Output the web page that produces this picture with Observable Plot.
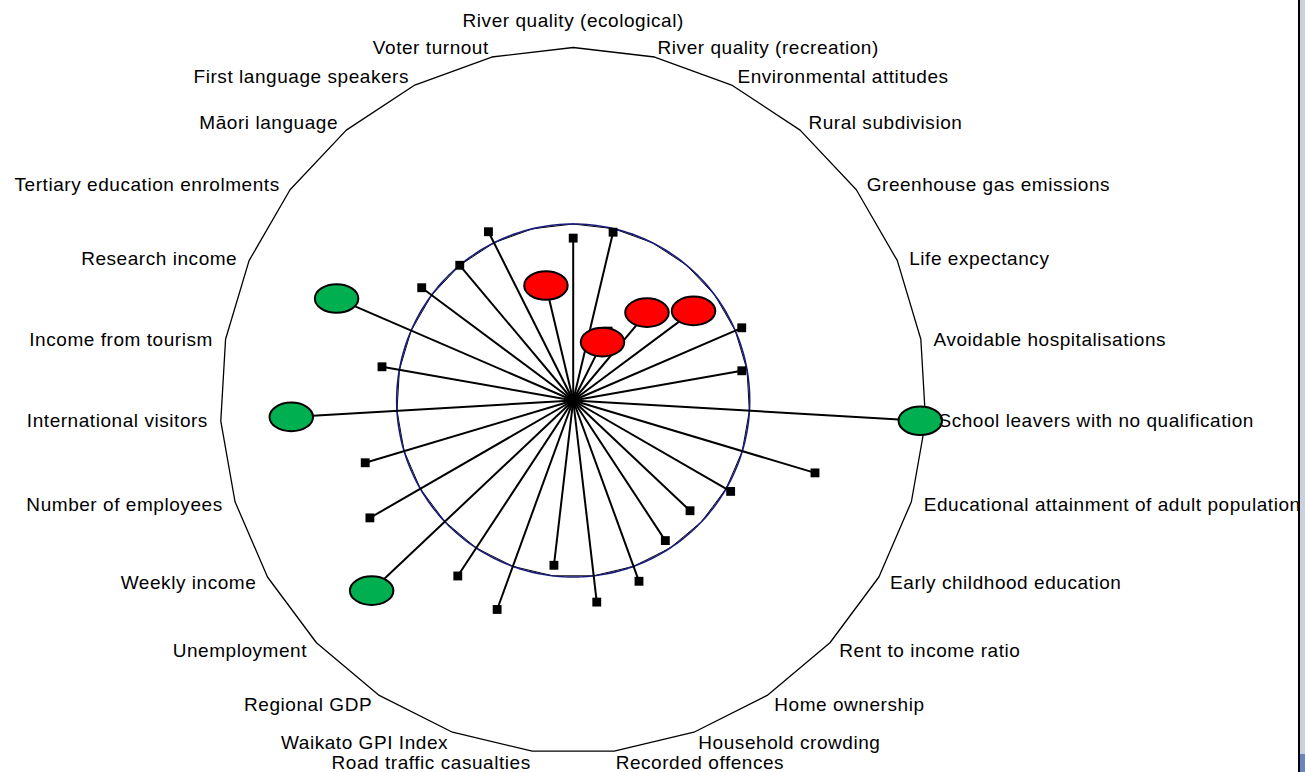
<!DOCTYPE html>
<html><head><meta charset="utf-8">
<script src="https://cdn.jsdelivr.net/npm/d3@7"></script>
<script src="https://cdn.jsdelivr.net/npm/@observablehq/plot@0.6"></script>
<style>
html,body{margin:0;padding:0;background:#fff;overflow:hidden;width:1305px;height:772px}
#chart{position:absolute;left:0;top:0}
#chart svg text{letter-spacing:0.55px}
.edge{position:absolute;top:0;height:772px}
</style></head><body>
<div id="chart"></div>
<div class="edge" style="left:1298px;width:2px;background:#000"></div>
<div class="edge" style="left:1300px;width:5px;background:#c9d1de"></div>
<div style="position:absolute;left:1300px;top:754px;width:5px;height:18px;background:#6d84be"></div>
<script>
// Indicators, clockwise from the top
const categories = [
  "River quality (ecological)", "River quality (recreation)", "Environmental attitudes",
  "Rural subdivision", "Greenhouse gas emissions", "Life expectancy",
  "Avoidable hospitalisations", "School leavers with no qualification",
  "Educational attainment of adult population", "Early childhood education",
  "Rent to income ratio", "Home ownership", "Household crowding", "Recorded offences",
  "Road traffic casualties", "Waikato GPI Index", "Regional GDP", "Unemployment",
  "Weekly income", "Number of employees", "International visitors", "Income from tourism",
  "Research income", "Tertiary education enrolments", "Māori language",
  "First language speakers", "Voter turnout"
];
// Index value (1 = inner circle baseline, 2 = outer ring)
const values = [
  0.92, 0.98, 0.44, 0.65, 0.85, 1.04, 0.97, 1.97, 1.43, 1.03,
  0.91, 0.95, 1.09, 1.15, 0.94, 1.26, 1.19, 1.57, 1.33, 1.23,
  1.60, 1.10, 1.46, 1.07, 1.00, 1.07, 0.67
];
// Highlight flags: "up" (green), "down" (red), or null
const flags = [
  null, null, "down", "down", "down", null, null, "up", null, null,
  null, null, null, null, null, null, null, "up", null, null,
  "up", null, "up", null, null, null, "down"
];
// Where each flag sits along its spoke
const flagValues = [
  null, null, 0.37, 0.65, 0.85, null, null, 1.97, null, null,
  null, null, null, null, null, null, null, 1.57, null, null,
  1.60, null, 1.46, null, null, null, 0.67
];
const gridLevels = [1, 2];
const labelRadius = 2.073;

const n = categories.length;
const ang = i => i * 2 * Math.PI / n;
const rows = categories.map((name, i) => ({
  i, name, v: values[i], flag: flags[i], fv: flagValues[i],
  a: ang(i),
  x: values[i] * Math.sin(ang(i)), y: values[i] * Math.cos(ang(i)),
  fx: flagValues[i] == null ? null : flagValues[i] * Math.sin(ang(i)),
  fy: flagValues[i] == null ? null : flagValues[i] * Math.cos(ang(i)),
  lx: labelRadius * Math.sin(ang(i)), ly: labelRadius * Math.cos(ang(i))
}));

const poly = lvl => d3.range(n + 1).map(k => ({x: lvl * Math.sin(ang(k % n)), y: lvl * Math.cos(ang(k % n))}));
const circ = d3.range(241).map(k => {const t = k / 240 * 2 * Math.PI; return {x: Math.sin(t), y: Math.cos(t)};});

const K = 0.5523;
const ellipseSymbol = {
  draw(ctx, size) {
    const r = Math.sqrt(size / Math.PI);
    const rx = r * 1.52, ry = r;
    ctx.moveTo(rx, 0);
    ctx.bezierCurveTo(rx, K * ry, K * rx, ry, 0, ry);
    ctx.bezierCurveTo(-K * rx, ry, -rx, K * ry, -rx, 0);
    ctx.bezierCurveTo(-rx, -K * ry, -K * rx, -ry, 0, -ry);
    ctx.bezierCurveTo(K * rx, -ry, rx, -K * ry, rx, 0);
    ctx.closePath();
  }
};

const upper = d => d.ly > 0;
const cx = 572.7, cy = 400, k = 176.5, W = 1305, H = 772;
const chart = Plot.plot({
  width: W, height: H, margin: 0,
  x: {domain: [-cx / k, (W - cx) / k], axis: null},
  y: {domain: [(cy - H) / k, cy / k], axis: null},
  style: {fontFamily: "'Liberation Sans', Arial, sans-serif", fontSize: "19px", background: "white"},
  marks: [
    Plot.line(poly(gridLevels[1]), {x: "x", y: "y", stroke: "black", strokeWidth: 1.3}),
    Plot.line(poly(gridLevels[0]), {x: "x", y: "y", stroke: "black", strokeWidth: 1}),
    Plot.line(circ, {x: "x", y: "y", stroke: "#1a1a7a", strokeWidth: 1.6}),
    Plot.link(rows, {x1: () => 0, y1: () => 0, x2: "x", y2: "y", stroke: "black", strokeWidth: 2}),
    Plot.dot(rows, {x: "x", y: "y", symbol: "square", r: 5, fill: "black"}),
    Plot.dot(rows.filter(d => d.flag === "up"), {x: "fx", y: "fy", symbol: ellipseSymbol, r: 14.3, fill: "#00b050", stroke: "black", strokeWidth: 2}),
    Plot.dot(rows.filter(d => d.flag === "down"), {x: "fx", y: "fy", symbol: ellipseSymbol, r: 14.3, fill: "#ff0000", stroke: "black", strokeWidth: 2}),
    Plot.text(rows.filter(d => d.i === 0), {x: "lx", y: "ly", text: "name", textAnchor: "middle", lineAnchor: "bottom", dy: -8, fill: "black"}),
    Plot.text(rows.filter(d => d.i >= 1 && d.i <= 13 && upper(d)), {x: "lx", y: "ly", text: "name", textAnchor: "start", lineAnchor: "middle", dy: 3, fill: "black"}),
    Plot.text(rows.filter(d => d.i >= 1 && d.i <= 13 && !upper(d)), {x: "lx", y: "ly", text: "name", textAnchor: "start", lineAnchor: "middle", dy: -1, fill: "black"}),
    Plot.text(rows.filter(d => d.i >= 14 && upper(d)), {x: "lx", y: "ly", text: "name", textAnchor: "end", lineAnchor: "middle", dy: 3, fill: "black"}),
    Plot.text(rows.filter(d => d.i >= 14 && !upper(d)), {x: "lx", y: "ly", text: "name", textAnchor: "end", lineAnchor: "middle", dy: -1, fill: "black"})
  ]
});
document.getElementById("chart").appendChild(chart);
</script>
</body></html>
